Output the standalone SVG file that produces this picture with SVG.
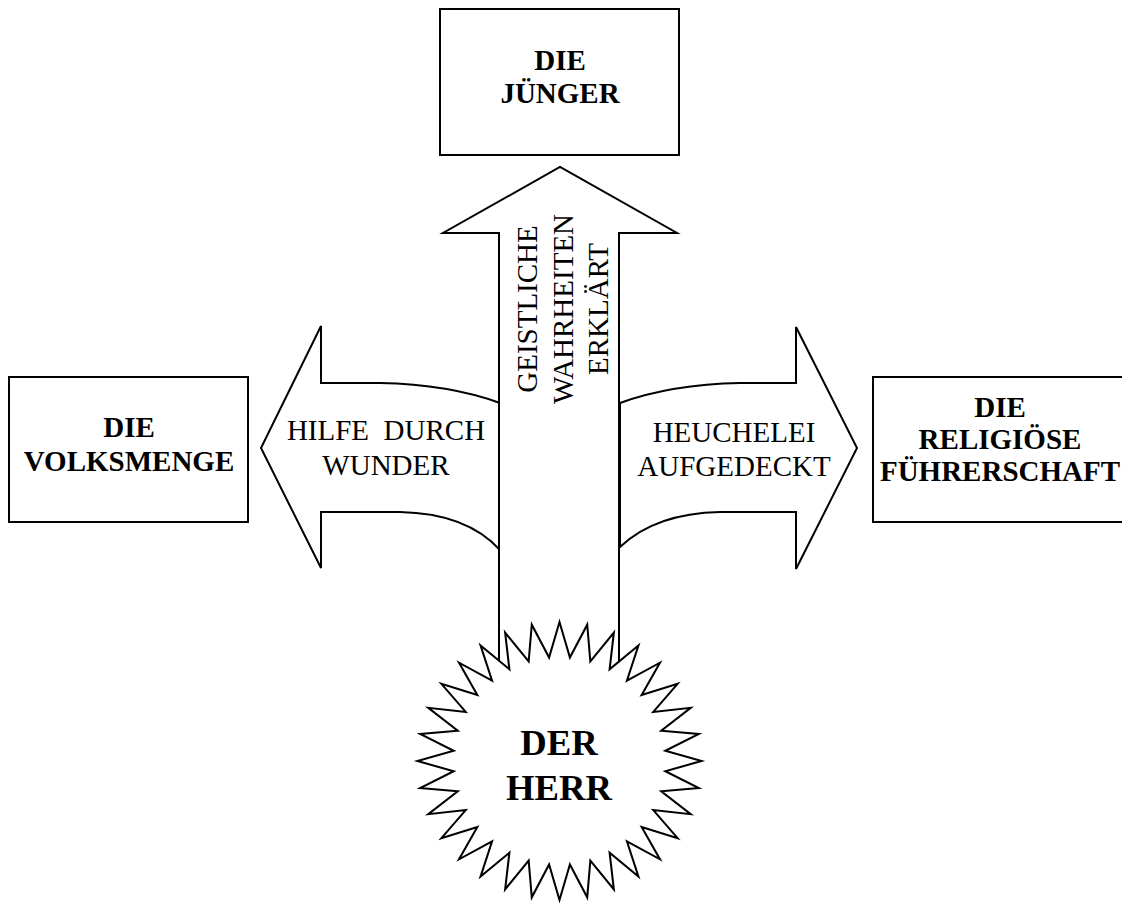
<svg xmlns="http://www.w3.org/2000/svg" width="1122" height="904" viewBox="0 0 1122 904">
<style>
.box{fill:#fff;stroke:#000;stroke-width:2}
.arr{fill:#fff;stroke:#000;stroke-width:2;stroke-linejoin:miter}
.star{fill:#fff;stroke:#000;stroke-width:2;stroke-linejoin:miter}
.nt{font-family:"Liberation Serif","Times New Roman",serif;font-weight:bold;font-size:29px;text-anchor:middle;fill:#000}
.lt{font-family:"Liberation Serif","Times New Roman",serif;font-size:29px;text-anchor:middle;fill:#000;white-space:pre}
.ht{font-family:"Liberation Serif","Times New Roman",serif;font-weight:bold;font-size:36.7px;text-anchor:middle;fill:#000}
</style>
<rect width="1122" height="904" fill="#fff"/>
<g id="connectors">
  <path id="arrow-left" class="arr" d="M500,403 C470,392 430,384 380,383 L321,383 L321,326 L261,448 L321,568 L321,512 L400,512 C450,513 480,528 500,550 Z"/>
  <path id="arrow-right" class="arr" d="M620,403 C650,392 690,384 740,383 L796,383 L796,327 L857,448 L796,569 L796,512 L720,512 C670,513 640,528 620,547 Z"/>
  <path id="arrow-up" class="arr" d="M499,700 L499,233 L443,233 L560,167 L677,233 L619,233 L619,700 Z"/>
  <text class="lt" x="386" y="440">HILFE  DURCH</text>
  <text class="lt" x="386" y="475">WUNDER</text>
  <text class="lt" x="734" y="442">HEUCHELEI</text>
  <text class="lt" x="734" y="476">AUFGEDECKT</text>
  <g transform="rotate(-90)">
    <text class="lt" x="-309" y="537">GEISTLICHE</text>
    <text class="lt" x="-309" y="573">WAHRHEITEN</text>
    <text class="lt" x="-309" y="608">ERKLÄRT</text>
  </g>
</g>
<g id="node-juenger">
  <rect class="box" x="440" y="9" width="239" height="146"/>
  <text class="nt" x="560" y="70">DIE</text>
  <text class="nt" x="560" y="103">JÜNGER</text>
</g>
<g id="node-volksmenge">
  <rect class="box" x="9" y="377" width="239" height="145"/>
  <text class="nt" x="129" y="437">DIE</text>
  <text class="nt" x="129" y="471">VOLKSMENGE</text>
</g>
<g id="node-fuehrerschaft">
  <rect class="box" x="873" y="377" width="260" height="145"/>
  <text class="nt" x="1000" y="417">DIE</text>
  <text class="nt" x="1000" y="449">RELIGIÖSE</text>
  <text class="nt" x="1000" y="481">FÜHRERSCHAFT</text>
</g>
<g id="node-herr">
  <polygon class="star" transform="translate(559.5,761) scale(1.022,1)" points="0,-139 10.19,-103.5 27.12,-136.33 30.19,-99.52 53.19,-128.42 49.03,-91.72 77.22,-115.57 65.98,-80.39 98.29,-98.29 80.39,-65.98 115.57,-77.22 91.72,-49.03 128.42,-53.19 99.52,-30.19 136.33,-27.12 103.5,-10.19 139,0 103.5,10.19 136.33,27.12 99.52,30.19 128.42,53.19 91.72,49.03 115.57,77.22 80.39,65.98 98.29,98.29 65.98,80.39 77.22,115.57 49.03,91.72 53.19,128.42 30.19,99.52 27.12,136.33 10.19,103.5 0,139 -10.19,103.5 -27.12,136.33 -30.19,99.52 -53.19,128.42 -49.03,91.72 -77.22,115.57 -65.98,80.39 -98.29,98.29 -80.39,65.98 -115.57,77.22 -91.72,49.03 -128.42,53.19 -99.52,30.19 -136.33,27.12 -103.5,10.19 -139,0 -103.5,-10.19 -136.33,-27.12 -99.52,-30.19 -128.42,-53.19 -91.72,-49.03 -115.57,-77.22 -80.39,-65.98 -98.29,-98.29 -65.98,-80.39 -77.22,-115.57 -49.03,-91.72 -53.19,-128.42 -30.19,-99.52 -27.12,-136.33 -10.19,-103.5"/>
  <text class="ht" x="559" y="755">DER</text>
  <text class="ht" x="559" y="800">HERR</text>
</g>
</svg>
